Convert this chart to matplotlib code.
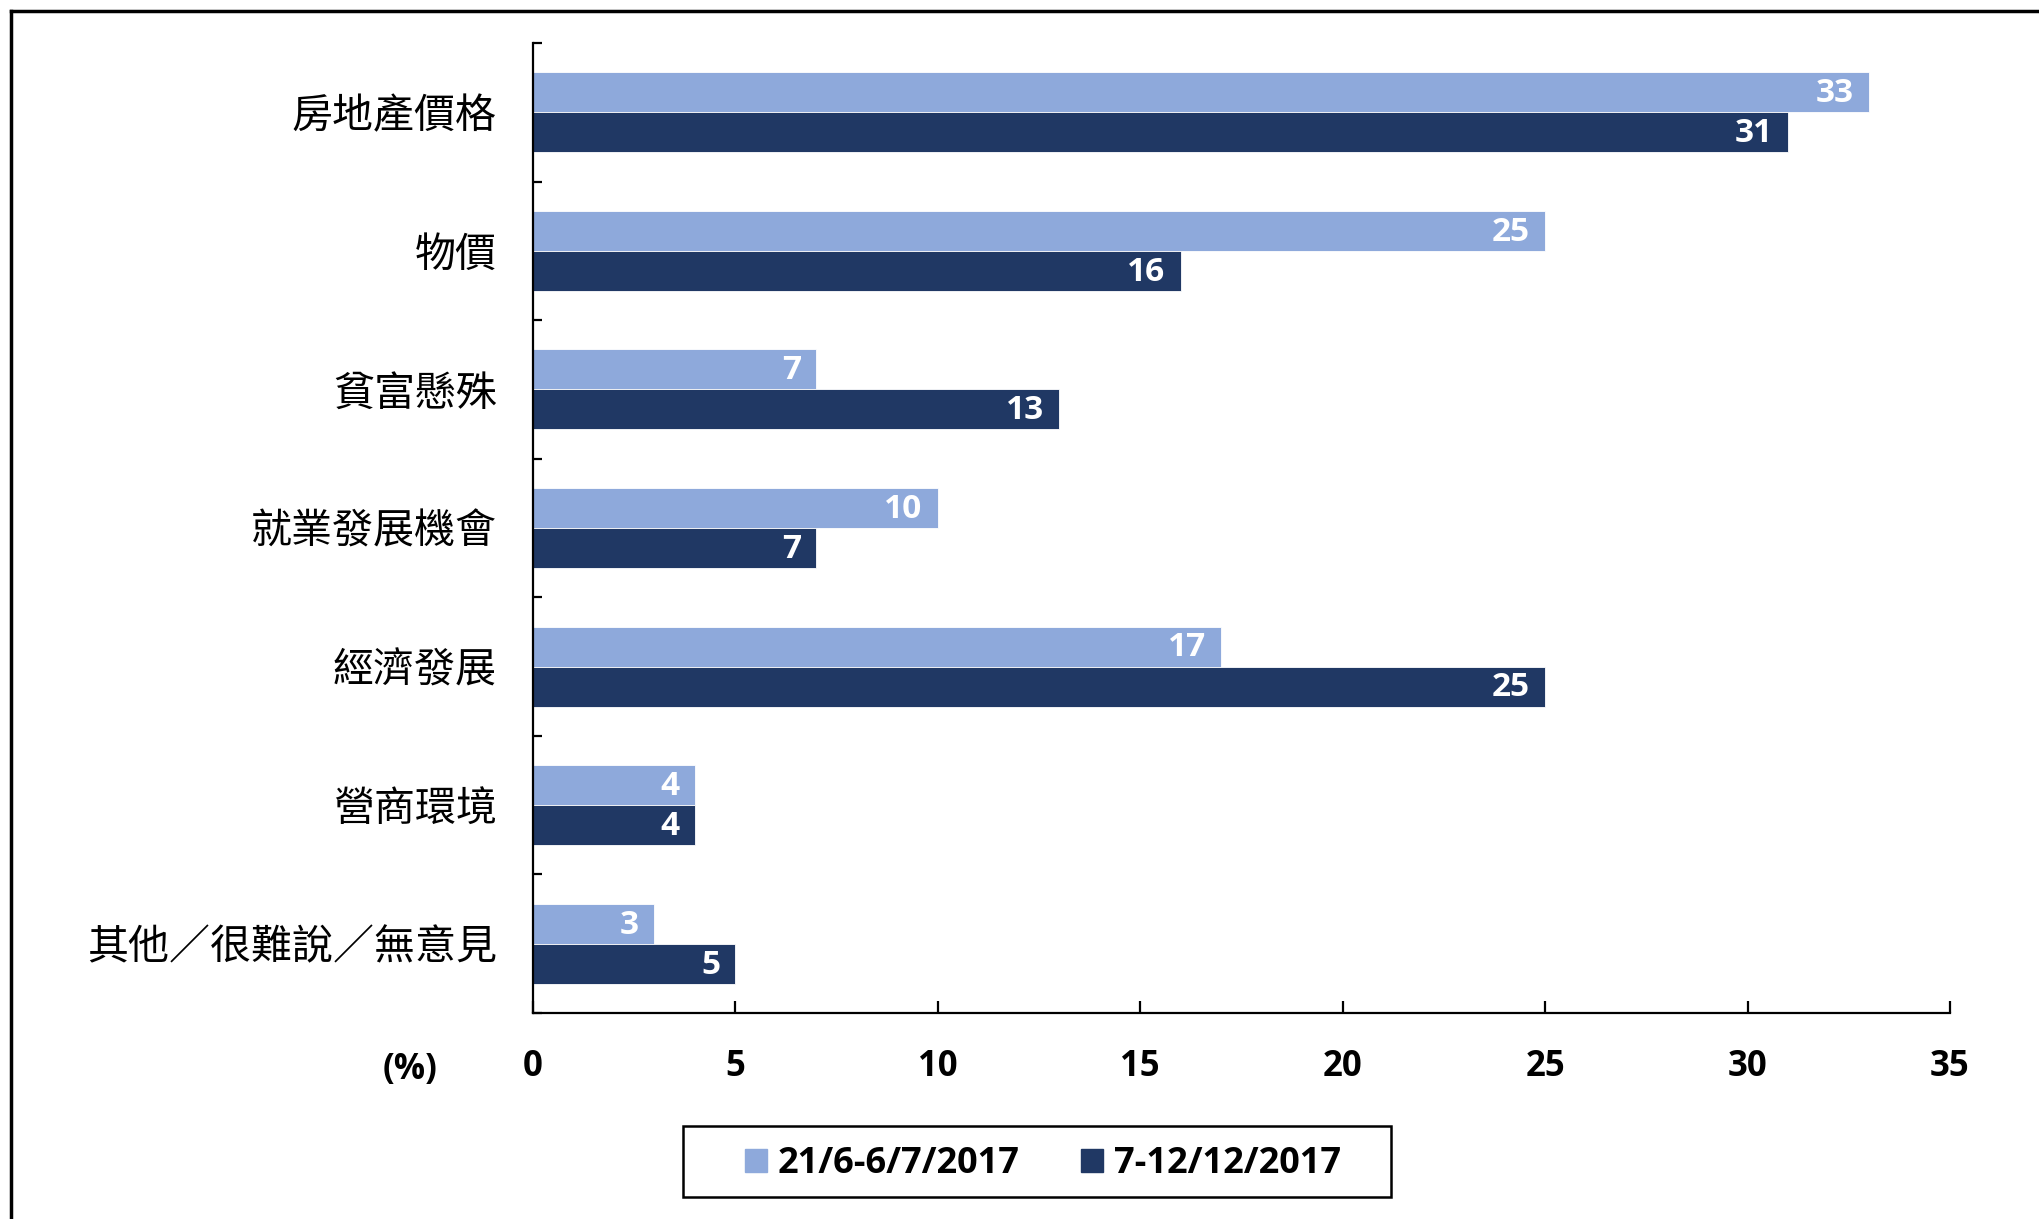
import matplotlib
matplotlib.use("Agg")
import matplotlib.pyplot as plt
from matplotlib.lines import Line2D
from matplotlib.patches import Rectangle
from matplotlib.ticker import FixedLocator
import numpy as np

categories = ["房地產價格", "物價", "貧富懸殊", "就業發展機會", "經濟發展", "營商環境", "其他／很難說／無意見"]
series_names = ["21/6-6/7/2017", "7-12/12/2017"]
values_first = [33, 25, 7, 10, 17, 4, 3]
values_second = [31, 16, 13, 7, 25, 4, 5]
x_ticks = [0, 5, 10, 15, 20, 25, 30, 35]

light = "#8EA9DB"
dark = "#203864"

W, H = 2040, 1219
fig = plt.figure(figsize=(W / 100, H / 100), dpi=100)

left, right, top, bottom = 533, 1950, 43, 1013
ax = fig.add_axes([left / W, 1 - bottom / H, (right - left) / W, (bottom - top) / H])

y = np.arange(len(categories))
bh = 0.289
b1 = ax.barh(y - bh / 2, values_first, height=bh, color=light, edgecolor="white", linewidth=0.6)
b2 = ax.barh(y + bh / 2, values_second, height=bh, color=dark, edgecolor="white", linewidth=0.6)

ax.set_ylim(len(categories) - 0.5, -0.5)
ax.set_xlim(0, 35)

num_font = dict(family="Open Sans", weight="bold")
cjk_font = ["Noto Sans CJK TC", "DejaVu Sans"]

for bars, vals in ((b1, values_first), (b2, values_second)):
    for rect, v in zip(bars, vals):
        ax.annotate(str(v), xy=(v, rect.get_y() + rect.get_height() / 2),
                    xytext=(-11, -1), textcoords="offset points",
                    ha="right", va="center", color="white", fontsize=24, **num_font)

for s in ("top", "right"):
    ax.spines[s].set_visible(False)
for s in ("left", "bottom"):
    ax.spines[s].set_linewidth(1.6)

ax.set_yticks(y)
ax.set_yticklabels(categories, family=cjk_font, fontsize=29.5)
ax.tick_params(axis="y", which="major", length=0, pad=26)
ax.yaxis.set_minor_locator(FixedLocator(np.arange(-0.5, len(categories) + 0.5, 1)))
ax.tick_params(axis="y", which="minor", direction="in", length=6.5, width=1.6)

ax.set_xticks(x_ticks)
ax.set_xticklabels([str(t) for t in x_ticks], fontsize=25, **num_font)
ax.tick_params(axis="x", which="major", direction="in", length=8.5, width=1.6, pad=26)

fig.text(410 / W, 1 - 1079 / H, "(%)", ha="center", va="baseline", fontsize=25, **num_font)

# legend (frame drawn separately)
fig.add_artist(Rectangle((683 / W, 1 - 1197 / H), (1391 - 683) / W, (1197 - 1126) / H,
                         transform=fig.transFigure, fill=False, edgecolor="black", linewidth=1.8))
handles = [Rectangle((0, 0), 1, 1, color=light), Rectangle((0, 0), 1, 1, color=dark)]
leg = fig.legend(handles, series_names, loc="center", bbox_to_anchor=(1043 / W, 1 - 1164 / H),
                 ncol=2, frameon=False, handlelength=0.6, handleheight=0.6,
                 handletextpad=0.3, columnspacing=1.7, borderpad=0.0, borderaxespad=0.0,
                 prop=dict(family="Open Sans", weight="bold", size=26))

# outer frame (only top and left visible)
fig.add_artist(Line2D([11 / W, 11 / W], [0, 1 - 11 / H], transform=fig.transFigure, color="black", lw=2.5))
fig.add_artist(Line2D([11 / W, 1], [1 - 11 / H, 1 - 11 / H], transform=fig.transFigure, color="black", lw=2.5))

fig.savefig("out.png", dpi=100)
